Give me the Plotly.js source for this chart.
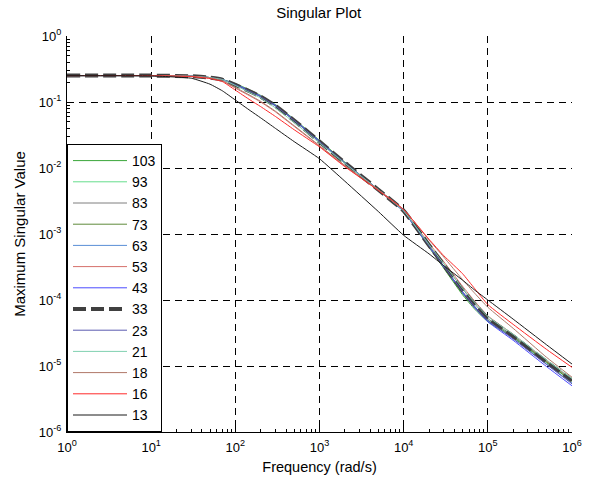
<!DOCTYPE html>
<html>
<head>
<meta charset="utf-8">
<script src="https://cdn.plot.ly/plotly-3.0.1.min.js"></script>
<style>html,body{margin:0;padding:0;background:#fff;}#chart{width:607px;height:480px;}</style>
</head>
<body>
<div id="chart"></div>
<script>
// Frequency points (rad/s)
const freq = [1, 10, 30, 50, 70, 100, 150, 200, 300, 500, 1000, 2000, 5000, 10000, 20000, 30000, 50000, 70000, 100000, 200000, 500000, 1000000];

// Series names (legend order)
const seriesNames = ["103", "93", "83", "73", "63", "53", "43", "33", "23", "21", "18", "16", "13"];

// Maximum singular values
const s103 = [0.2512, 0.2512, 0.2455, 0.2344, 0.2188, 0.1906, 0.1513, 0.1259, 0.0912, 0.0550, 0.02628, 0.01228, 0.00468, 0.00224, 0.000631, 0.000302, 0.000120, 0.0000724, 0.0000468, 0.0000269, 0.0000112, 0.00000589];
const s93  = [0.2512, 0.2512, 0.2455, 0.2344, 0.2188, 0.1862, 0.1478, 0.1230, 0.0891, 0.0537, 0.02568, 0.0120, 0.00468, 0.00224, 0.000646, 0.000316, 0.000129, 0.0000794, 0.0000501, 0.0000282, 0.0000118, 0.00000603];
const s83  = [0.2512, 0.2512, 0.2455, 0.2344, 0.2188, 0.1820, 0.1445, 0.1202, 0.0871, 0.0525, 0.0251, 0.01173, 0.00468, 0.00229, 0.000676, 0.000355, 0.000148, 0.0000871, 0.0000525, 0.0000289, 0.0000118, 0.00000631];
const s73  = [0.2512, 0.2512, 0.2455, 0.2344, 0.2188, 0.1862, 0.1478, 0.1230, 0.0891, 0.0537, 0.02568, 0.0120, 0.00457, 0.00219, 0.000631, 0.000309, 0.000126, 0.0000759, 0.0000490, 0.0000276, 0.0000115, 0.00000589];
const s63  = [0.2512, 0.2512, 0.2455, 0.2344, 0.2188, 0.1820, 0.1445, 0.1202, 0.0871, 0.0525, 0.0251, 0.0120, 0.00468, 0.00219, 0.000646, 0.000324, 0.000132, 0.0000794, 0.0000490, 0.0000263, 0.0000107, 0.00000550];
const s53  = [0.2512, 0.2512, 0.2455, 0.2317, 0.2089, 0.1622, 0.1230, 0.1000, 0.0708, 0.0427, 0.0214, 0.0107, 0.00457, 0.00224, 0.000724, 0.000380, 0.000162, 0.0000955, 0.0000575, 0.0000302, 0.0000120, 0.00000631];
const s43  = [0.2512, 0.2512, 0.2455, 0.2344, 0.2188, 0.1862, 0.1478, 0.1230, 0.0891, 0.0537, 0.02568, 0.0120, 0.00468, 0.00219, 0.000646, 0.000316, 0.000129, 0.0000759, 0.0000468, 0.0000245, 0.00000977, 0.00000501];
const s33  = [0.2512, 0.2512, 0.2455, 0.2344, 0.2188, 0.1820, 0.1445, 0.1202, 0.0871, 0.0525, 0.0251, 0.0120, 0.00468, 0.00224, 0.000676, 0.000339, 0.000141, 0.0000851, 0.0000525, 0.0000282, 0.0000115, 0.00000603];
const s23  = [0.2512, 0.2512, 0.2455, 0.2344, 0.2188, 0.1820, 0.1445, 0.1202, 0.0871, 0.0525, 0.0251, 0.0120, 0.00468, 0.00224, 0.000661, 0.000324, 0.000135, 0.0000794, 0.0000490, 0.0000257, 0.0000105, 0.00000537];
const s21  = [0.2512, 0.2512, 0.2455, 0.2344, 0.2188, 0.1778, 0.1380, 0.1148, 0.0813, 0.0490, 0.0240, 0.01175, 0.00468, 0.00224, 0.000692, 0.000355, 0.000151, 0.0000912, 0.0000562, 0.0000302, 0.0000123, 0.00000646];
const s18  = [0.2512, 0.2512, 0.2455, 0.2317, 0.2113, 0.1660, 0.1259, 0.1023, 0.0724, 0.0437, 0.0219, 0.0110, 0.00468, 0.00234, 0.000813, 0.000447, 0.000204, 0.000126, 0.0000776, 0.0000372, 0.0000135, 0.00000676];
const s16  = [0.2512, 0.2512, 0.2427, 0.2265, 0.2042, 0.1514, 0.1072, 0.0851, 0.0603, 0.0380, 0.0209, 0.01047, 0.00457, 0.00234, 0.000832, 0.000468, 0.000251, 0.000148, 0.0000851, 0.0000427, 0.0000178, 0.00000955];
const s13  = [0.2512, 0.2483, 0.2291, 0.1862, 0.1479, 0.1072, 0.0741, 0.0575, 0.0398, 0.0251, 0.0138, 0.00631, 0.00219, 0.000955, 0.000501, 0.000331, 0.000200, 0.000141, 0.000100, 0.0000513, 0.0000209, 0.0000107];

const seriesValues = [s103, s93, s83, s73, s63, s53, s43, s33, s23, s21, s18, s16, s13];

// Tick labels
const xTickVals = [1, 10, 100, 1000, 10000, 100000, 1000000];
const xTickText = ["10<sup>0</sup>", "10<sup>1</sup>", "10<sup>2</sup>", "10<sup>3</sup>", "10<sup>4</sup>", "10<sup>5</sup>", "10<sup>6</sup>"];
const yTickVals = [1e-6, 1e-5, 1e-4, 1e-3, 1e-2, 1e-1, 1];
const yTickText = ["10<sup>-6</sup>", "10<sup>-5</sup>", "10<sup>-4</sup>", "10<sup>-3</sup>", "10<sup>-2</sup>", "10<sup>-1</sup>", "10<sup>0</sup>"];

const colors = ["#3aa63a", "#66dd8c", "#7f7f7f", "#5f8a3a", "#5a8ed6", "#d6706a", "#4a4aff", "#404040", "#5a5ab0", "#80d0b0", "#b07868", "#ff2a2a", "#1a1a1a"];

const traces = seriesNames.map((name, i) => {
  const isDash = name === "33";
  return {
    x: freq,
    y: seriesValues[i],
    name: name,
    type: "scatter",
    mode: "lines",
    line: {
      color: colors[i],
      width: isDash ? 4 : 1,
      dash: isDash ? "13px,5px" : "solid",
      shape: "spline",
      smoothing: 0.4
    }
  };
});

const FAM = "Liberation Sans, Arial, sans-serif";
const tickFont = {family: FAM, size: 13, color: "#000"};

const axisCommon = {
  type: "log",
  showline: true,
  linecolor: "#000",
  linewidth: 1,
  mirror: false,
  ticks: "inside",
  ticklen: 5,
  tickcolor: "#000",
  showgrid: true,
  gridcolor: "#000",
  gridwidth: 1,
  griddash: "7px,5px",
  zeroline: false,
  tickfont: tickFont,
  minor: {ticks: "inside", ticklen: 3, tickcolor: "#000", showgrid: false, dtick: "D1"}
};

const layout = {
  width: 607,
  height: 480,
  margin: {l: 67, r: 35, t: 36, b: 48},
  paper_bgcolor: "#fff",
  plot_bgcolor: "#fff",
  font: {family: FAM, size: 13, color: "#000"},
  showlegend: true,
  title: {text: "Singular Plot", font: {family: FAM, size: 15, color: "#000"}, x: 0.525, xanchor: "center", y: 1 - 13 / 480, yanchor: "middle", yref: "container"},
  xaxis: Object.assign({}, axisCommon, {
    range: [0, 6],
    tickmode: "array",
    tickvals: xTickVals,
    ticktext: xTickText,
    ticklabelstandoff: 3,
    title: {text: "Frequency (rad/s)", font: {family: FAM, size: 14.5, color: "#000"}, standoff: 8}
  }),
  yaxis: Object.assign({}, axisCommon, {
    range: [-6, 0],
    tickmode: "array",
    tickvals: yTickVals,
    ticktext: yTickText,
    ticklabelstandoff: 2,
    title: {text: "Maximum Singular Value", font: {family: FAM, size: 15, color: "#000"}, standoff: 9}
  }),
  legend: {
    x: 0, y: 0, xanchor: "left", yanchor: "bottom",
    bgcolor: "#fff", bordercolor: "#000", borderwidth: 1,
    font: {family: FAM, size: 14, color: "#000"},
    traceorder: "normal",
    itemwidth: 54
  }
};

Plotly.newPlot("chart", traces, layout, {staticPlot: true, displayModeBar: false});
</script>
</body>
</html>
